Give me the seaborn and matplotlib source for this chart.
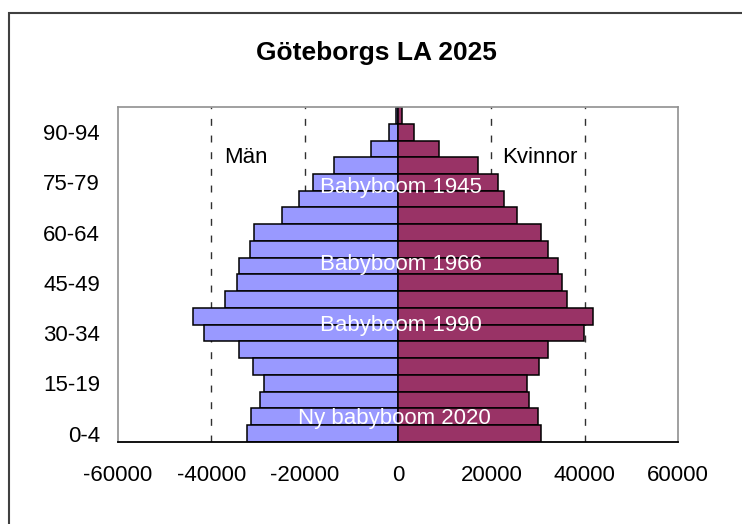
import pandas as pd
import matplotlib.pyplot as plt
import seaborn as sns
from matplotlib.patches import Rectangle

# Åldersgrupper, från yngst till äldst
age_groups = ["0-4", "5-9", "10-14", "15-19", "20-24", "25-29", "30-34", "35-39",
              "40-44", "45-49", "50-54", "55-59", "60-64", "65-69", "70-74",
              "75-79", "80-84", "85-89", "90-94", "95+"]
men = [32300, 31400, 29600, 28800, 31100, 34100, 41600, 43900, 37100, 34500,
       34100, 31800, 30900, 24800, 21300, 18200, 13800, 5850, 1900, 500]
women = [30700, 29900, 28100, 27600, 30300, 32100, 39900, 41700, 36100, 35100,
         34300, 32100, 30700, 25400, 22800, 21400, 17100, 8700, 3400, 900]
shown_labels = ["0-4", "15-19", "30-34", "45-49", "60-64", "75-79", "90-94"]
x_ticks = [-60000, -40000, -20000, 0, 20000, 40000, 60000]
grid_lines = [-40000, -20000, 20000, 40000]

df = pd.concat([
    pd.DataFrame({"Ålder": age_groups, "Antal": [-v for v in men], "Kön": "Män"}),
    pd.DataFrame({"Ålder": age_groups, "Antal": women, "Kön": "Kvinnor"}),
])
order = age_groups[::-1]  # äldst överst

sns.set_style("white")
plt.rcParams["font.family"] = ["Liberation Sans", "DejaVu Sans"]
plt.rcParams["text.color"] = "black"
plt.rcParams["xtick.color"] = "black"
plt.rcParams["ytick.color"] = "black"

fig = plt.figure(figsize=(7.42, 5.24), dpi=100)
ax = fig.add_axes([0.159, 0.1565, 0.7549, 0.6393])

for x in grid_lines:
    ax.axvline(x, color="#303030", lw=1, ls=(0, (5, 7)), zorder=0)

sns.barplot(data=df, x="Antal", y="Ålder", hue="Kön", order=order,
            hue_order=["Män", "Kvinnor"], palette=["#9999FF", "#993366"],
            saturation=1, dodge=False, width=1, orient="h", edgecolor="black",
            linewidth=1.1, ax=ax, zorder=2)
ax.legend_.remove()

ax.set_xlim(-60000, 60000)
ax.set_ylim(len(order) - 0.5, -0.5)
ax.set_xticks(x_ticks)
ax.set_xticklabels([str(t) for t in x_ticks], fontsize=16)
ax.set_yticks([order.index(a) for a in shown_labels])
ax.set_yticklabels(shown_labels, fontsize=16)
ax.tick_params(axis="x", length=4.5, width=1, color="#303030", pad=12, direction="out")
ax.tick_params(axis="y", length=0, pad=13)
ax.set_xlabel("")
ax.set_ylabel("")

for side in ["left", "top", "right"]:
    ax.spines[side].set_color("#909090")
    ax.spines[side].set_linewidth(1.2)
ax.spines["bottom"].set_color("black")
ax.spines["bottom"].set_linewidth(1.3)

ax.text(-32700, 2.5, "Män", fontsize=16, ha="center", va="center")
ax.text(30400, 2.5, "Kvinnor", fontsize=16, ha="center", va="center")
notes = [("Babyboom 1945", 700, 4.3), ("Babyboom 1966", 700, 8.9),
         ("Babyboom 1990", 700, 12.56), ("Ny babyboom 2020", -770, 18.07)]
for txt, x, y in notes:
    ax.text(x, y, txt, fontsize=16, color="white", ha="center", va="center", zorder=5)

fig.text(0.508, 0.899, "Göteborgs LA 2025", fontsize=19, fontweight="bold",
         ha="center", va="center")
fig.patches.append(Rectangle((0.0121, -0.1), 1.1, 1.0752, transform=fig.transFigure,
                             fill=False, edgecolor="#404040", lw=1.5))

fig.savefig("out.png", dpi=100)
